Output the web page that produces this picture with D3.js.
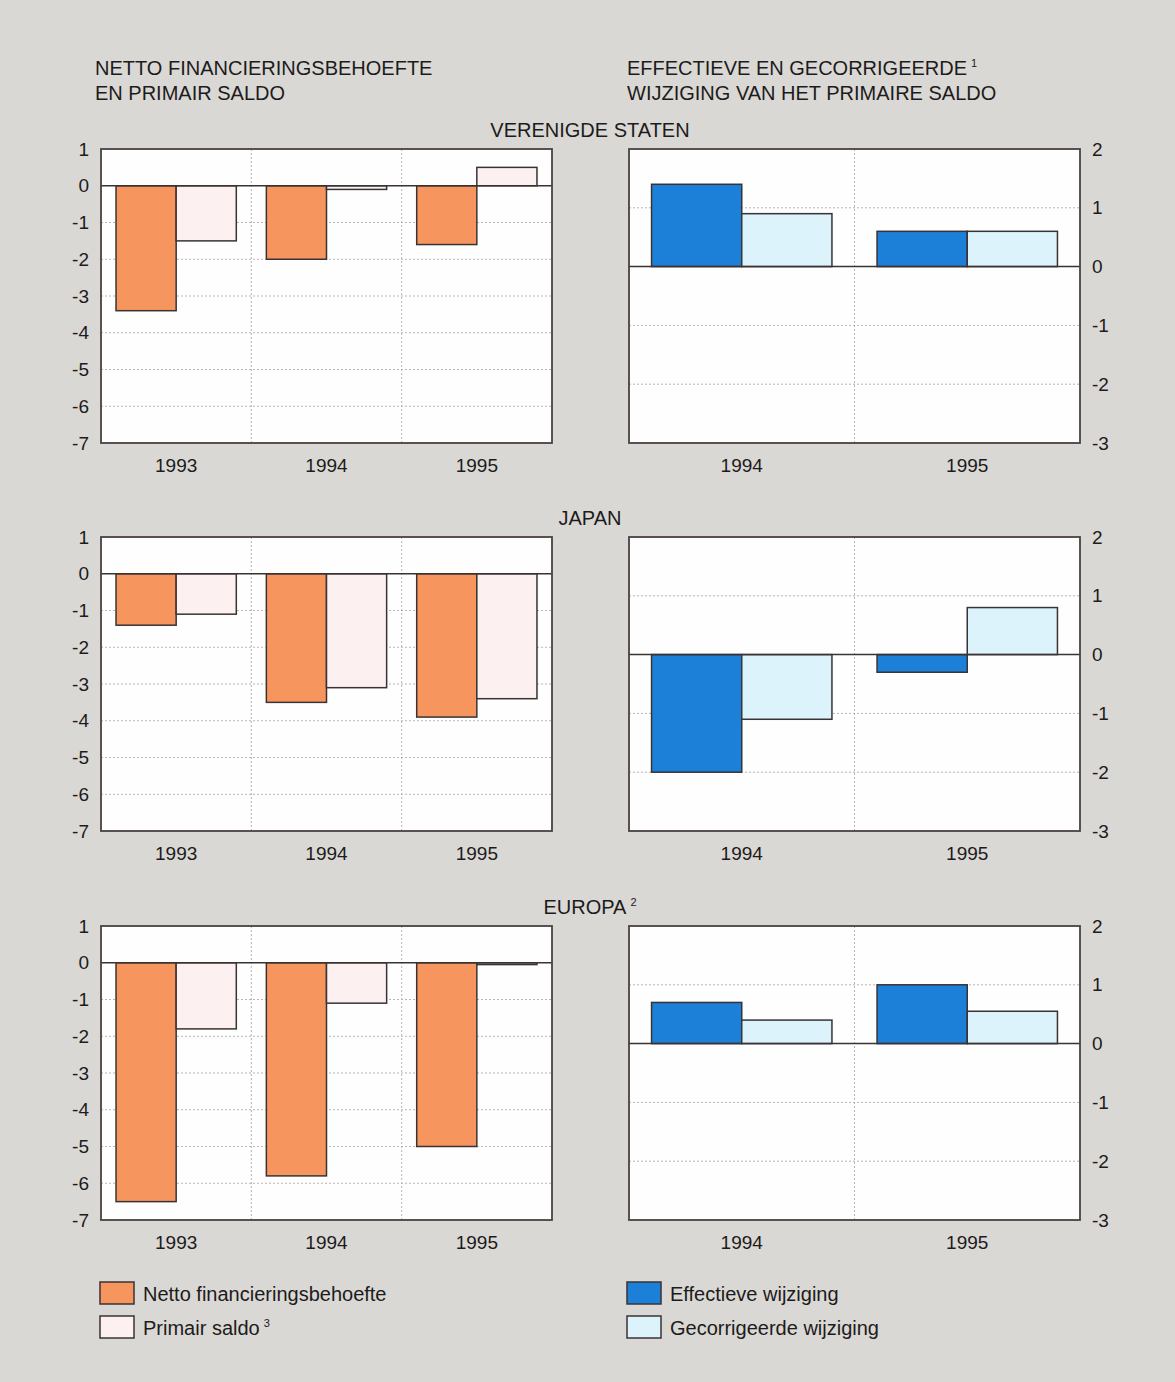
<!DOCTYPE html>
<html>
<head>
<meta charset="utf-8">
<script src="https://cdn.jsdelivr.net/npm/d3@7"></script>
<style>
  body { margin: 0; background: #dad8d5; }
  svg { display: block; font-family: "Liberation Sans", Arial, Helvetica, sans-serif; }
</style>
</head>
<body>
<svg id="chart" width="1175" height="1382"></svg>
<script>
// ---- data ----
const regions = ["VERENIGDE STATEN", "JAPAN", "EUROPA"];
const regionNotes = ["", "", "2"];
const leftYears = ["1993", "1994", "1995"];
const rightYears = ["1994", "1995"];
const leftSeries = ["Netto financieringsbehoefte", "Primair saldo"];
const rightSeries = ["Effectieve wijziging", "Gecorrigeerde wijziging"];
const leftTicks = [1, 0, -1, -2, -3, -4, -5, -6, -7];
const rightTicks = [2, 1, 0, -1, -2, -3];

// netto financieringsbehoefte / primair saldo per region (1993-1995)
const nettoUS = [-3.4, -2.0, -1.6];
const primairUS = [-1.5, -0.1, 0.5];
const nettoJP = [-1.4, -3.5, -3.9];
const primairJP = [-1.1, -3.1, -3.4];
const nettoEU = [-6.5, -5.8, -5.0];
const primairEU = [-1.8, -1.1, -0.05];

// effectieve / gecorrigeerde wijziging (1994-1995)
const effUS = [1.4, 0.6];
const corUS = [0.9, 0.6];
const effJP = [-2.0, -0.3];
const corJP = [-1.1, 0.8];
const effEU = [0.7, 1.0];
const corEU = [0.4, 0.55];

const leftData = [[nettoUS, primairUS], [nettoJP, primairJP], [nettoEU, primairEU]];
const rightData = [[effUS, corUS], [effJP, corJP], [effEU, corEU]];

const leftColors = ["#f7955f", "#fcf0f1"];
const rightColors = ["#1c7fd8", "#dcf3fb"];

// ---- layout ----
const svg = d3.select("#chart");
const panelTops = [149, 537, 926];
const panelH = 294;
const leftX = [101, 552];
const rightX = [629, 1080];
const tickSize = 19;
const textSize = 20;
const ink = "#1d1b1b";
const frame = "#4a4141";

function panel(top, xr, years, series, colors, domain, ticks, tickSide) {
  const g = svg.append("g");
  const y = d3.scaleLinear().domain(domain).range([top + panelH, top]);
  const x0 = d3.scaleBand().domain(years).range(xr).padding(0);
  const x1 = d3.scaleBand().domain([0, 1]).range([0, x0.bandwidth()])
    .paddingInner(0).paddingOuter(0.25);

  // white plot area
  g.append("rect")
    .attr("x", xr[0]).attr("y", top)
    .attr("width", xr[1] - xr[0]).attr("height", panelH)
    .attr("fill", "#fefefe");

  // horizontal grid
  g.append("g")
    .selectAll("line")
    .data(ticks.filter(t => t !== 0 && t !== domain[0] && t !== domain[1]))
    .join("line")
    .attr("x1", xr[0]).attr("x2", xr[1])
    .attr("y1", d => y(d)).attr("y2", d => y(d))
    .attr("stroke", "#b9b3b6").attr("stroke-width", 1)
    .attr("stroke-dasharray", "2,2");

  // vertical grid between years
  g.append("g")
    .selectAll("line")
    .data(years.slice(1))
    .join("line")
    .attr("x1", d => x0(d)).attr("x2", d => x0(d))
    .attr("y1", top).attr("y2", top + panelH)
    .attr("stroke", "#b9b3b6").attr("stroke-width", 1)
    .attr("stroke-dasharray", "2,2");

  // bars
  const rows = [];
  years.forEach((yr, i) => series.forEach((s, j) => rows.push({ yr, j, v: s[i] })));
  g.append("g")
    .selectAll("rect")
    .data(rows)
    .join("rect")
    .attr("x", d => x0(d.yr) + x1(d.j))
    .attr("width", x1.bandwidth())
    .attr("y", d => y(Math.max(0, d.v)))
    .attr("height", d => Math.abs(y(d.v) - y(0)))
    .attr("fill", d => colors[d.j])
    .attr("stroke", "#3a3333").attr("stroke-width", 1.5);

  // zero line
  g.append("line")
    .attr("x1", xr[0]).attr("x2", xr[1])
    .attr("y1", y(0)).attr("y2", y(0))
    .attr("stroke", "#3a3333").attr("stroke-width", 1.5);

  // frame
  g.append("rect")
    .attr("x", xr[0]).attr("y", top)
    .attr("width", xr[1] - xr[0]).attr("height", panelH)
    .attr("fill", "none").attr("stroke", frame).attr("stroke-width", 1.8);

  // y axis labels (plain hyphen minus, no decimals)
  const axis = (tickSide === "left" ? d3.axisLeft(y) : d3.axisRight(y))
    .tickValues(ticks).tickSize(0).tickPadding(12)
    .tickFormat(d => String(d));
  g.append("g")
    .attr("transform", `translate(${tickSide === "left" ? xr[0] : xr[1]},0)`)
    .call(axis)
    .call(a => a.select(".domain").remove())
    .selectAll("text")
    .attr("font-size", tickSize).attr("font-family", null).attr("fill", ink);

  // x axis labels
  g.append("g")
    .attr("transform", `translate(0,${top + panelH})`)
    .call(d3.axisBottom(x0).tickSize(0).tickPadding(16))
    .call(a => a.select(".domain").remove())
    .selectAll("text")
    .attr("font-size", tickSize).attr("font-family", null).attr("fill", ink);
}

regions.forEach((r, i) => {
  panel(panelTops[i], leftX, leftYears, leftData[i], leftColors, [-7, 1], leftTicks, "left");
  panel(panelTops[i], rightX, rightYears, rightData[i], rightColors, [-3, 2], rightTicks, "right");

  const t = svg.append("text")
    .attr("x", 590).attr("y", panelTops[i] - 12)
    .attr("text-anchor", "middle")
    .attr("font-size", textSize).attr("fill", ink)
    .text(r);
  if (regionNotes[i]) {
    t.append("tspan").attr("font-size", 11).attr("dx", 4).attr("dy", -8).text(regionNotes[i]);
  }
});

// headings
const head = svg.append("g").attr("font-size", textSize).attr("fill", ink);
head.append("text").attr("x", 95).attr("y", 75).text("NETTO FINANCIERINGSBEHOEFTE");
head.append("text").attr("x", 95).attr("y", 100).text("EN PRIMAIR SALDO");
const h2 = head.append("text").attr("x", 627).attr("y", 75).text("EFFECTIEVE EN GECORRIGEERDE");
h2.append("tspan").attr("font-size", 11).attr("dx", 4).attr("dy", -8).text("1");
head.append("text").attr("x", 627).attr("y", 100).text("WIJZIGING VAN HET PRIMAIRE SALDO");

// legends
function legend(x, names, colors, notes) {
  const lg = svg.append("g");
  names.forEach((n, i) => {
    const yy = 1282 + i * 34;
    lg.append("rect")
      .attr("x", x).attr("y", yy)
      .attr("width", 34).attr("height", 22)
      .attr("fill", colors[i]).attr("stroke", "#3a3333").attr("stroke-width", 1.5);
    const t = lg.append("text")
      .attr("x", x + 43).attr("y", yy + 19)
      .attr("font-size", textSize).attr("fill", ink)
      .text(n);
    if (notes[i]) t.append("tspan").attr("font-size", 11).attr("dx", 4).attr("dy", -8).text(notes[i]);
  });
}
legend(100, leftSeries, leftColors, ["", "3"]);
legend(627, rightSeries, rightColors, ["", ""]);
</script>
</body>
</html>
